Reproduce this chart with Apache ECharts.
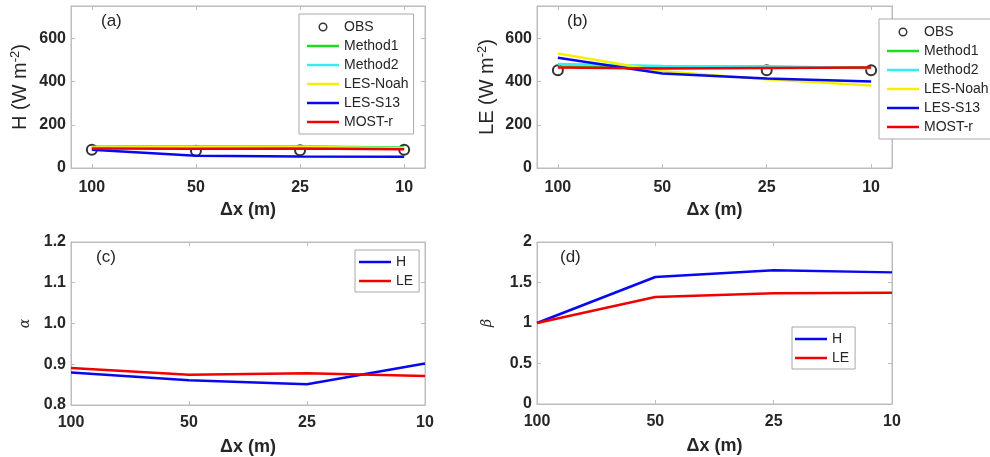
<!DOCTYPE html>
<html>
<head>
<meta charset="utf-8">
<script src="https://cdn.jsdelivr.net/npm/echarts@6/dist/echarts.min.js"></script>
<style>
html, body { margin: 0; padding: 0; background: #fff; }
#main { width: 990px; height: 457px; }
</style>
</head>
<body>
<div id="main"></div>
<script>
// grid spacing, m
var dxLabels = ['100', '50', '25', '10'];

// (a) sensible heat flux, W m-2
var hObs = [84, 80, 82, 85];
var hMethod1 = [98, 99, 100, 95];
var hMethod2 = [96, 98, 98, 93];
var hLesNoah = [95, 97, 97, 92];
var hLesS13 = [85, 57, 53, 52];
var hMostR = [90, 89, 90, 87];

// (b) latent heat flux, W m-2 (no OBS marker visible at 50 m)
var leObs = [453, null, 453, 453];
var leMethod1 = [470, 468, 468, 464];
var leMethod2 = [482, 472, 471, 462];
var leLesNoah = [530, 448, 411, 382];
var leLesS13 = [510, 438, 414, 400];
var leMostR = [465, 461, 463, 465];

// (c) alpha, (d) beta
var alphaH = [0.880, 0.861, 0.851, 0.902];
var alphaLE = [0.891, 0.874, 0.878, 0.871];
var betaH = [1.0, 1.568, 1.650, 1.625];
var betaLE = [1.0, 1.321, 1.366, 1.374];

var xTicks = [0, 1, 2, 3];
var fluxTicks = [0, 200, 400, 600];
var alphaTicks = [0.8, 0.9, 1.0, 1.1, 1.2];
var betaTicks = [0, 0.5, 1, 1.5, 2];

var FONT = 'Liberation Sans, Arial, sans-serif';
var TXT = '#262626';
var BOX = '#bdbdbd';
var colors = {
  m1: '#1edc1e', m2: '#33f0ee', noah: '#f2f200', s13: '#0808f0', most: '#f00000'
};
var LINE_ICON = 'path://M0,0 L32,0 L32,2.5 L0,2.5 Z';
var RING_ICON = 'path://M5,0 A5,5 0 1,1 4.999,0 Z M5,1.6 A3.4,3.4 0 1,0 5.001,1.6 Z';

function pts(arr) {
  var out = [];
  arr.forEach(function (v, i) { if (v !== null) out.push([i, v]); });
  return out;
}

var myChart = echarts.init(document.getElementById('main'));

var grids = [
  { left: 71, top: 6, width: 354, height: 162 },
  { left: 537, top: 6, width: 355, height: 162 },
  { left: 71, top: 242, width: 354, height: 163 },
  { left: 537, top: 242, width: 355, height: 162 }
];

var xAxes = [];
var yAxes = [];
function addAxes(gi, xmin, xmax, ymin, ymax, yTicks, yFmt, yName, nameGap, labelMargin) {
  // bottom + top x axes
  xAxes.push({
    type: 'value', gridIndex: gi, min: xmin, max: xmax, position: 'bottom',
    name: '\u0394x (m)', nameLocation: 'middle', nameGap: 33,
    nameTextStyle: { fontFamily: FONT, fontSize: 18, fontWeight: 'bold', color: TXT },
    axisLine: { onZero: false, lineStyle: { color: BOX } },
    axisTick: { inside: true, length: 4, lineStyle: { color: BOX }, customValues: xTicks },
    axisLabel: {
      customValues: xTicks, margin: labelMargin,
      fontFamily: FONT, fontSize: 16, fontWeight: 'bold', color: TXT,
      formatter: function (v) { return dxLabels[Math.round(v)]; }
    },
    splitLine: { show: false }
  });
  xAxes.push({
    type: 'value', gridIndex: gi, min: xmin, max: xmax, position: 'top',
    axisLine: { onZero: false, lineStyle: { color: BOX } },
    axisTick: { inside: true, length: 4, lineStyle: { color: BOX }, customValues: xTicks },
    axisLabel: { show: false },
    splitLine: { show: false }
  });
  yAxes.push({
    type: 'value', gridIndex: gi, min: ymin, max: ymax, position: 'left',
    name: yName.text, nameLocation: 'middle', nameGap: nameGap,
    nameTextStyle: yName.style,
    axisLine: { onZero: false, lineStyle: { color: BOX } },
    axisTick: { inside: true, length: 4, lineStyle: { color: BOX }, customValues: yTicks },
    axisLabel: {
      customValues: yTicks, margin: 5,
      fontFamily: FONT, fontSize: 16, fontWeight: 'bold', color: TXT,
      formatter: yFmt
    },
    splitLine: { show: false }
  });
  yAxes.push({
    type: 'value', gridIndex: gi, min: ymin, max: ymax, position: 'right',
    axisLine: { onZero: false, lineStyle: { color: BOX } },
    axisTick: { inside: true, length: 4, lineStyle: { color: BOX }, customValues: yTicks },
    axisLabel: { show: false },
    splitLine: { show: false }
  });
}

var fluxNameStyle = {
  fontFamily: FONT, fontSize: 20, color: TXT,
  rich: { sup: { fontFamily: FONT, fontSize: 13, color: TXT, verticalAlign: 'top', padding: [0, 0, 9, 0] } }
};
var greekStyle = { fontFamily: 'DejaVu Serif, serif', fontSize: 14, fontStyle: 'italic', color: TXT };

addAxes(0, -0.2, 3.2, 0, 750, fluxTicks, null, { text: 'H (W m{sup|-2})', style: fluxNameStyle }, 40, 12);
addAxes(1, -0.2, 3.2, 0, 750, fluxTicks, null, { text: 'LE (W m{sup|-2})', style: fluxNameStyle }, 39, 12);
addAxes(2, 0, 3, 0.8, 1.2, alphaTicks, function (v) { return v.toFixed(1); }, { text: '\u03b1', style: greekStyle }, 39, 10);
addAxes(3, 0, 3, 0, 2, betaTicks, null, { text: '\u03b2', style: greekStyle }, 43, 10);

function lineSeries(name, color, data, gi) {
  return {
    name: name, type: 'line', xAxisIndex: gi * 2, yAxisIndex: gi * 2,
    data: pts(data), symbol: 'none', z: 3,
    lineStyle: { color: color, width: 2.5 }, itemStyle: { color: color },
    emphasis: { disabled: true }
  };
}
function obsSeries(data, gi) {
  return {
    name: 'OBS', type: 'scatter', xAxisIndex: gi * 2, yAxisIndex: gi * 2,
    data: pts(data), symbol: 'emptyCircle', symbolSize: 10, z: 2,
    itemStyle: { color: '#000', borderColor: '#000', borderWidth: 2.5 },
    emphasis: { disabled: true }
  };
}

var series = [
  obsSeries(hObs, 0),
  lineSeries('Method1', colors.m1, hMethod1, 0),
  lineSeries('Method2', colors.m2, hMethod2, 0),
  lineSeries('LES-Noah', colors.noah, hLesNoah, 0),
  lineSeries('LES-S13', colors.s13, hLesS13, 0),
  lineSeries('MOST-r', colors.most, hMostR, 0),
  obsSeries(leObs, 1),
  lineSeries('Method1', colors.m1, leMethod1, 1),
  lineSeries('Method2', colors.m2, leMethod2, 1),
  lineSeries('LES-Noah', colors.noah, leLesNoah, 1),
  lineSeries('LES-S13', colors.s13, leLesS13, 1),
  lineSeries('MOST-r', colors.most, leMostR, 1),
  lineSeries('H', colors.s13, alphaH, 2),
  lineSeries('LE', colors.most, alphaLE, 2),
  lineSeries('H', colors.s13, betaH, 3),
  lineSeries('LE', colors.most, betaLE, 3)
];

var legendBase = {
  orient: 'vertical', itemWidth: 32, itemHeight: 9, itemGap: 5,
  backgroundColor: '#fff', borderColor: '#a8a8a8', borderWidth: 1,
  selectedMode: false,
  textStyle: { fontFamily: FONT, fontSize: 14, color: TXT, padding: [0, 0, 0, 0] }
};
function legendItems(names) {
  return names.map(function (n) {
    if (n === 'OBS') {
      return { name: n, icon: RING_ICON, itemStyle: { color: '#000', borderWidth: 0 } };
    }
    return { name: n, icon: LINE_ICON };
  });
}
var fluxNames = ['OBS', 'Method1', 'Method2', 'LES-Noah', 'LES-S13', 'MOST-r'];
var ratioNames = ['H', 'LE'];
var legends = [
  Object.assign({}, legendBase, { left: 299, top: 14, padding: [6, 5, 5, 8], data: legendItems(fluxNames) }),
  Object.assign({}, legendBase, { left: 879, top: 19, padding: [6, 20, 5, 8], data: legendItems(fluxNames) }),
  Object.assign({}, legendBase, { left: 355, top: 250, padding: [5, 6, 4, 4], data: legendItems(ratioNames) }),
  Object.assign({}, legendBase, { left: 792, top: 327, padding: [5, 6, 4, 3], data: legendItems(ratioNames) })
];

function panelLabel(txt, x, y) {
  return {
    type: 'text', left: x, top: y, z: 10,
    style: { text: txt, fontFamily: FONT, fontSize: 17, fill: TXT }
  };
}

var option = {
  animation: false,
  backgroundColor: '#fff',
  grid: grids.map(function (g) {
    return Object.assign({ show: true, borderColor: BOX, borderWidth: 1, backgroundColor: '#fff' }, g);
  }),
  xAxis: xAxes,
  yAxis: yAxes,
  legend: legends,
  series: series,
  graphic: [
    panelLabel('(a)', 101, 13),
    panelLabel('(b)', 567, 13),
    panelLabel('(c)', 96, 249),
    panelLabel('(d)', 560, 249)
  ]
};

myChart.setOption(option);
</script>
</body>
</html>
